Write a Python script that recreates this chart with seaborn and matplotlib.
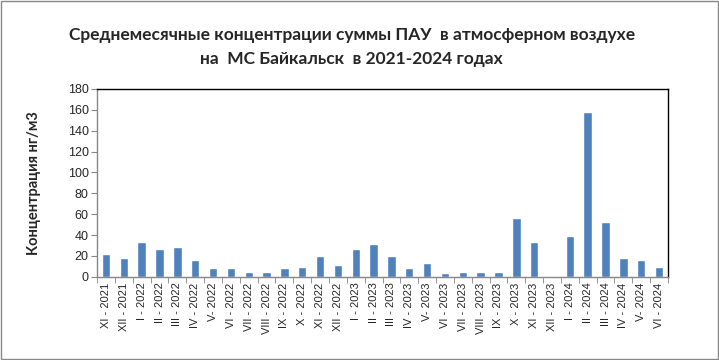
import numpy as np
import pandas as pd
import matplotlib
matplotlib.use('Agg')
import matplotlib.pyplot as plt
from matplotlib.patches import Rectangle
import seaborn as sns

# Data
months = ['XI - 2021', 'XII - 2021', 'I - 2022', 'II - 2022', 'III - 2022', 'IV - 2022',
          'V- 2022', 'VI - 2022', 'VII - 2022', 'VIII - 2022', 'IX - 2022', 'X - 2022',
          'XI - 2022', 'XII - 2022', 'I - 2023', 'II - 2023', 'III - 2023', 'IV - 2023',
          'V- 2023', 'VI - 2023', 'VII - 2023', 'VIII - 2023', 'IX - 2023', 'X - 2023',
          'XI - 2023', 'XII - 2023', 'I - 2024', 'II - 2024', 'III - 2024', 'IV - 2024',
          'V- 2024', 'VI - 2024']
pah = [21.4, 18.5, 32.9, 26.2, 29.0, 15.7, 8.0, 8.0, 4.2, 4.2, 8.0, 9.9,
       20.4, 10.9, 26.2, 31.0, 19.5, 8.0, 12.8, 3.2, 5.1, 4.2, 4.2, 55.9,
       32.9, 0.0, 38.7, 157.5, 53.0, 17.6, 15.7, 9.9]
y_ticks = list(range(0, 181, 20))

df = pd.DataFrame({'month': months, 'pah': pah})

sns.set_style('white')
plt.rcParams['font.family'] = ['Liberation Sans', 'DejaVu Sans']

fig = plt.figure(figsize=(7.19, 3.6), dpi=100)
ax = fig.add_axes([0.135, 0.231, 0.794, 0.522])

sns.barplot(data=df, x='month', y='pah', color='#4F81BD', saturation=1, width=0.47, ax=ax)

ax.set_xlim(-0.5, len(months) - 0.5)
ax.set_ylim(0, 180)
ax.set_yticks(y_ticks)
ax.tick_params(axis='y', labelsize=9, length=4, color='#868686', direction='out', pad=2, left=True)
ax.tick_params(axis='x', which='major', labelsize=8, rotation=90, length=0, pad=4)
ax.set_xticks(np.arange(-0.5, len(months)), minor=True)
ax.tick_params(axis='x', which='minor', length=4, color='#868686', direction='out', bottom=True)
ax.set_xlabel('')
ax.set_ylabel('Концентрация нг/м3', fontsize=10.5, fontweight='bold', labelpad=19,
              family=['Lato', 'DejaVu Sans'])

for s in ['left', 'bottom']:
    ax.spines[s].set_color('#868686')
    ax.spines[s].set_linewidth(1)
for s in ['top', 'right']:
    ax.spines[s].set_color('black')
    ax.spines[s].set_linewidth(1)

title_font = dict(ha='center', va='center', fontsize=12.5, fontweight='bold',
                  family=['Lato', 'DejaVu Sans'])
fig.text(0.489, 0.903, 'Среднемесячные концентрации суммы ПАУ  в атмосферном воздухе', **title_font)
fig.text(0.489, 0.837, 'на  МС Байкальск  в 2021-2024 годах', **title_font)

# outer chart border
fig.patches.append(Rectangle((0.001, 0.002), 0.997, 0.995, transform=fig.transFigure,
                             fill=False, edgecolor='#888888', linewidth=1))

fig.savefig('out.png', dpi=100)
plt.close()
